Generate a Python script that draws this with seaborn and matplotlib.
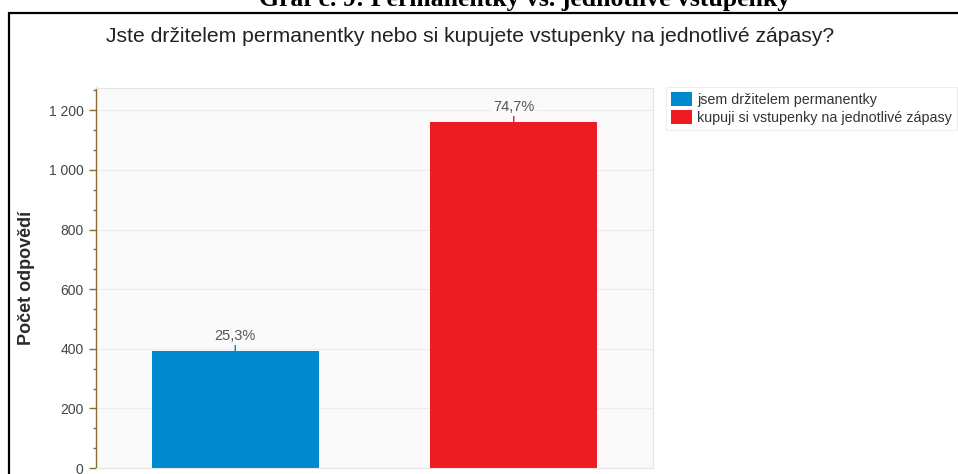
import matplotlib
matplotlib.use("Agg")
import matplotlib.pyplot as plt
from matplotlib.patches import Patch
from matplotlib.lines import Line2D
from matplotlib.ticker import FuncFormatter, AutoMinorLocator, MultipleLocator
import seaborn as sns
import pandas as pd

# Survey answers: season-ticket holders vs. single-match ticket buyers
categories = ["jsem držitelem permanentky", "kupuji si vstupenky na jednotlivé zápasy"]
counts = [393, 1160]
shares = ["25,3%", "74,7%"]
colors = ["#0189D0", "#ED1C24"]

header = "Graf č. 9: Permanentky vs. jednotlivé vstupenky"
question = "Jste držitelem permanentky nebo si kupujete vstupenky na jednotlivé zápasy?"
ylabel = "Počet odpovědí"

sns.set_theme(style="white")
plt.rcParams["font.family"] = ["Liberation Sans", "DejaVu Sans"]

W, H = 958, 474
fig = plt.figure(figsize=(W / 100, H / 100), dpi=100)
fig.patch.set_facecolor("white")

def fx(px):
    return px / W

def fy(py):
    return 1 - py / H

ax = fig.add_axes([fx(96), fy(468), fx(653) - fx(96), fy(88) - fy(468)])
ax.set_facecolor("#FAFAFA")

df = pd.DataFrame({"cat": categories, "n": counts})
sns.barplot(data=df, x="cat", y="n", hue="cat", palette=colors,
            width=0.6, legend=False, ax=ax, saturation=1, linewidth=0)

ax.set_xlim(-0.5, 1.5)
ax.set_ylim(0, 1275)
ax.yaxis.set_major_locator(MultipleLocator(200))
ax.yaxis.set_minor_locator(AutoMinorLocator(3))
ax.yaxis.set_major_formatter(FuncFormatter(lambda v, p: f"{int(v):,}".replace(",", " ")))
ax.grid(axis="y", color="#ECECEC", linewidth=0.8)
ax.set_axisbelow(True)
ax.set_xticks([])
ax.set_xlabel("")
ax.set_ylabel(ylabel, fontsize=13, fontweight="bold", color="#2A2A2A", labelpad=0)
ax.yaxis.set_label_coords(-0.1095, 0.5)

for side in ["top", "right", "bottom"]:
    ax.spines[side].set_color("#E4E4E4")
    ax.spines[side].set_linewidth(0.8)
ax.spines["left"].set_color("#8B6A33")
ax.spines["left"].set_linewidth(1.0)
ax.tick_params(axis="y", which="major", direction="out", length=5, width=1,
               color="#8B6A33", labelsize=10, labelcolor="#444444", pad=4, left=True)
ax.tick_params(axis="y", which="minor", direction="out", length=2.5, width=1,
               color="#8B6A33", left=True)

# percentage labels with short leader lines
for i, (n, s, c) in enumerate(zip(counts, shares, colors)):
    ax.annotate("", xy=(i, n), xytext=(0, 5.5), textcoords="offset points",
                arrowprops=dict(arrowstyle="-", color=c, lw=1, shrinkA=0, shrinkB=0))
    ax.annotate(s, xy=(i, n), xytext=(0, 6), textcoords="offset points",
                ha="center", va="bottom", fontsize=10.5, color="#555555",
                bbox=dict(boxstyle="square,pad=0.15", fc="#FAFAFA", ec="none"))

# legend
handles = [Patch(facecolor=c, edgecolor="none", label=l) for c, l in zip(colors, categories)]
leg = fig.legend(handles=handles, loc="upper left", bbox_to_anchor=(fx(666), fy(87)),
                 frameon=True, fancybox=False, fontsize=10.3, handlelength=1.5,
                 handleheight=1.1, handletextpad=0.35, borderpad=0.35, labelspacing=0.22,
                 borderaxespad=0, labelcolor="#333333")
leg.get_frame().set_edgecolor("#EAEAEA")
leg.get_frame().set_linewidth(0.8)

fig.text(fx(470), fy(37), question, ha="center", va="center", fontsize=15.2, color="#222222")
fig.text(fx(525), fy(6), header, ha="center", va="baseline", fontsize=18.5,
         fontweight="bold", family=["Liberation Serif", "DejaVu Serif"], color="black")

# outer frame
fig.add_artist(Line2D([fx(9), fx(958)], [fy(13), fy(13)], color="black", lw=1.6))
fig.add_artist(Line2D([fx(9), fx(9)], [fy(13), fy(474)], color="black", lw=1.6))

fig.savefig("out.png", dpi=100)
